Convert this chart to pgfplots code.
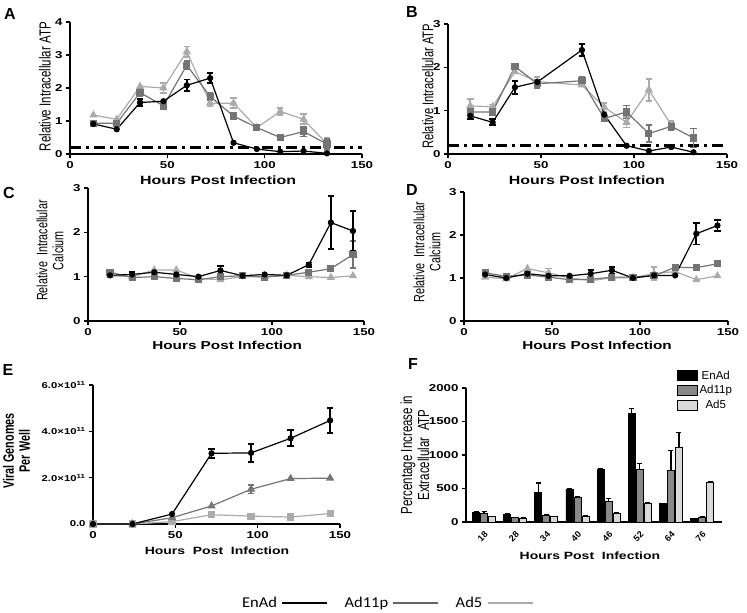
\documentclass[border=0pt]{standalone}
\usepackage{pgfplots}
\usepackage{pgfplotstable}
\pgfplotsset{compat=1.18}
\usepackage{fontspec}
\setmainfont{Liberation Sans}
\newfontfamily\hfont[FakeStretch=1.33]{Liberation Sans}
\newfontfamily\vfont[FakeStretch=0.72]{Liberation Sans}
\newfontfamily\calfont[FakeStretch=1.1]{Carlito}

\definecolor{cB}{HTML}{747474}
\definecolor{cC}{HTML}{ABABAB}
\definecolor{barB}{HTML}{888888}
\definecolor{barC}{HTML}{D9D9D9}

\pgfplotstableread{
x E eE B eB C eC
0 140 10 135 25 80 5
1 115 5 65 5 60 5
2 440 140 100 10 80 5
3 490 15 370 10 85 5
4 780 10 310 45 130 10
5 1620 70 780 95 275 20
6 275 5 770 295 1115 220
7 50 5 75 10 590 10
}\tabF

\pgfplotsset{
 panel/.style={
   scale only axis, anchor=south west,
   axis x line=bottom, axis y line=left,
   axis line style={-, line width=1.3pt},
   tick style={line width=1.3pt, black},
   tick align=outside, major tick length=4pt,
   /pgf/number format/assume math mode=true,
   /pgf/number format/1000 sep={},
   tick label style={font=\hfont\bfseries\fontsize{10}{12}\selectfont},
   xlabel style={font=\hfont\bfseries\fontsize{12}{14}\selectfont, anchor=center},
   ylabel style={font=\vfont\fontsize{16}{17}\selectfont, align=center, anchor=center},
   clip=false,
   xmin=0, xmax=150, xtick={0,50,100,150}, ymin=0,
   every axis plot/.append style={line width=1.2pt},
 },
 sE/.style={black, mark=*, mark size=2.5pt},
 s11/.style={cB, mark=square*, mark size=3pt},
 s5/.style={cC, mark=triangle*, mark size=3.6pt},
 eb/.style={only marks, mark=none, forget plot, error bars/.cd, y dir=both, y explicit,
   error bar style={line width=1.8pt}, error mark options={rotate=90, mark size=3.2pt, line width=1.8pt}},
 dd/.style={black, line width=2.6pt, dash pattern=on 11pt off 5pt on 3pt off 5pt, forget plot},
}

\begin{document}
\begin{tikzpicture}
\path[use as bounding box] (0,0) rectangle (747pt,613pt);

% Panel letters
\node[font=\bfseries\fontsize{16}{18}\selectfont] at (10pt,599pt) {A};
\node[font=\bfseries\fontsize{16}{18}\selectfont] at (412pt,601pt) {B};
\node[font=\bfseries\fontsize{16}{18}\selectfont] at (9pt,420pt) {C};
\node[font=\bfseries\fontsize{16}{18}\selectfont] at (412pt,423pt) {D};
\node[font=\bfseries\fontsize{16}{18}\selectfont] at (8pt,243pt) {E};
\node[font=\bfseries\fontsize{16}{18}\selectfont] at (413pt,249pt) {F};

% ---------------- A
\begin{axis}[panel, at={(70pt,459pt)}, width=292pt, height=132pt,
  ymax=4, ytick={0,1,2,3,4},
  xlabel={Hours Post Infection}, ylabel={Relative Intracellular ATP},
  xlabel style={at={(axis description cs:0.507,-0.197)}},
  ylabel style={at={(axis description cs:-0.086,0.51)}}]
\addplot[dd] coordinates {(0,0.2) (150,0.2)};
\addplot[s5] coordinates {(12,1.18)(24,1.05)(36,2.05)(48,2.0)(60,3.1)(72,1.54)(84,1.54)(96,0.8)(108,1.29)(120,1.05)(132,0.3)};
\addplot[cC, eb] coordinates {(48,2.0)+-(0,0.15) (60,3.1)+-(0,0.16) (72,1.54)+-(0,0.1) (84,1.54)+-(0,0.15) (108,1.29)+-(0,0.1) (120,1.05)+-(0,0.15) (132,0.3)+-(0,0.2)};
\addplot[s11] coordinates {(12,0.93)(24,0.93)(36,1.86)(48,1.46)(60,2.69)(72,1.74)(84,1.15)(96,0.8)(108,0.5)(120,0.68)(132,0.3)};
\addplot[cB, eb] coordinates {(36,1.86)+-(0,0.1) (48,1.46)+-(0,0.1) (60,2.69)+-(0,0.12) (72,1.74)+-(0,0.12) (84,1.15)+-(0,0.08) (96,0.8)+-(0,0.06) (120,0.68)+-(0,0.15) (132,0.3)+-(0,0.15)};
\addplot[sE] coordinates {(12,0.91)(24,0.75)(36,1.56)(48,1.6)(60,2.08)(72,2.3)(84,0.34)(96,0.15)(108,0.07)(120,0.09)(132,0.02)};
\addplot[black, eb] coordinates {(36,1.56)+-(0,0.1) (60,2.08)+-(0,0.18) (72,2.3)+-(0,0.16)};
\end{axis}

% ---------------- B
\begin{axis}[panel, at={(448pt,459pt)}, width=279pt, height=130pt,
  ymax=3, ytick={0,1,2,3},
  xlabel={Hours Post Infection}, ylabel={Relative Intracellular ATP},
  xlabel style={at={(axis description cs:0.498,-0.2)}},
  ylabel style={font=\vfont\fontsize{15.5}{17}\selectfont, at={(axis description cs:-0.072,0.52)}}]
\addplot[dd] coordinates {(0,0.2) (150,0.2)};
\addplot[s5] coordinates {(12,1.11)(24,1.09)(36,1.9)(48,1.67)(72,1.59)(84,1.08)(96,0.73)(108,1.48)(120,0.67)};
\addplot[cC, eb] coordinates {(12,1.11)+-(0,0.15) (24,1.09)+-(0,0.05) (48,1.67)+-(0,0.1) (84,1.08)+-(0,0.1) (96,0.73)+-(0,0.12) (108,1.48)+-(0,0.25) (120,0.67)+-(0,0.1)};
\addplot[s11] coordinates {(12,0.97)(24,0.97)(36,2.02)(48,1.62)(72,1.69)(84,0.82)(96,0.97)(108,0.47)(120,0.64)(132,0.37)};
\addplot[cB, eb] coordinates {(48,1.62)+-(0,0.1) (72,1.69)+-(0,0.1) (96,0.97)+-(0,0.15) (108,0.47)+-(0,0.2) (120,0.64)+-(0,0.08) (132,0.37)+-(0,0.22)};
\addplot[sE] coordinates {(12,0.88)(24,0.73)(36,1.54)(48,1.66)(72,2.4)(84,0.91)(96,0.19)(108,0.07)(120,0.16)(132,0.04)};
\addplot[black, eb] coordinates {(12,0.88)+-(0,0.07) (24,0.73)+-(0,0.07) (36,1.54)+-(0,0.15) (72,2.4)+-(0,0.13)};
\end{axis}

% ---------------- C
\begin{axis}[panel, at={(88pt,292pt)}, width=276pt, height=133pt,
  ymax=3, ytick={0,1,2,3},
  xlabel={Hours Post Infection}, ylabel={Relative\ \ Intracellular\\Calcium},
  xlabel style={font=\hfont\bfseries\fontsize{11.5}{14}\selectfont, at={(axis description cs:0.504,-0.18)}},
  ylabel style={font=\vfont\fontsize{15}{16}\selectfont, at={(axis description cs:-0.138,0.53)}}]
\addplot[s5] coordinates {(12,1.02)(24,1.0)(36,1.15)(48,1.15)(60,0.96)(72,0.93)(84,1.0)(96,1.0)(108,1.03)(120,1.0)(132,0.98)(144,1.02)};
\addplot[s11] coordinates {(12,1.1)(24,0.98)(36,1.0)(48,0.96)(60,0.93)(72,1.0)(84,1.02)(96,0.99)(108,1.03)(120,1.1)(132,1.18)(144,1.5)};
\addplot[cB, eb] coordinates {(132,1.18)+-(0,0.05) (144,1.5)+-(0,0.3)};
\addplot[sE] coordinates {(12,1.03)(24,1.05)(36,1.1)(48,1.05)(60,1.0)(72,1.14)(84,1.02)(96,1.05)(108,1.03)(120,1.27)(132,2.22)(144,2.03)};
\addplot[black, eb] coordinates {(24,1.05)+-(0,0.05) (72,1.14)+-(0,0.1) (120,1.27)+-(0,0.05) (132,2.22)+-(0,0.6) (144,2.03)+-(0,0.45)};
\end{axis}

% ---------------- D
\begin{axis}[panel, at={(464pt,292pt)}, width=264pt, height=129pt,
  ymax=3, ytick={0,1,2,3},
  xlabel={Hours Post Infection}, ylabel={Relative\ \ Intracellular\\Calcium},
  xlabel style={font=\hfont\bfseries\fontsize{11.5}{14}\selectfont, at={(axis description cs:0.504,-0.186)}},
  ylabel style={font=\vfont\fontsize{15}{16}\selectfont, at={(axis description cs:-0.14,0.535)}}]
\addplot[s5] coordinates {(12,1.02)(24,0.98)(36,1.22)(48,1.12)(60,1.0)(72,0.94)(84,1.0)(96,1.01)(108,1.1)(120,1.15)(132,0.96)(144,1.05)};
\addplot[cC, eb] coordinates {(48,1.12)+-(0,0.1) (108,1.1)+-(0,0.15)};
\addplot[s11] coordinates {(12,1.12)(24,1.04)(36,1.07)(48,1.02)(60,0.96)(72,0.97)(84,1.02)(96,1.02)(108,1.05)(120,1.25)(132,1.24)(144,1.33)};
\addplot[sE] coordinates {(12,1.08)(24,1.0)(36,1.1)(48,1.05)(60,1.05)(72,1.1)(84,1.18)(96,1.0)(108,1.06)(120,1.06)(132,2.03)(144,2.22)};
\addplot[black, eb] coordinates {(72,1.1)+-(0,0.08) (84,1.18)+-(0,0.08) (132,2.03)+-(0,0.25) (144,2.22)+-(0,0.12)};
\end{axis}

% ---------------- E
\begin{axis}[panel, at={(93pt,89pt)}, width=247pt, height=139pt,
  ymax=6e11, ytick={0,2e11,4e11,6e11}, scaled y ticks=false,
  yticklabels={0.0, 2.0×10\textsuperscript{11}, 4.0×10\textsuperscript{11}, 6.0×10\textsuperscript{11}},
  yticklabel style={font=\hfont\bfseries\fontsize{8.5}{10}\selectfont},
  xlabel={Hours\ \ Post\ \ Infection}, ylabel={Viral Genomes\\Per Well},
  xlabel style={font=\hfont\bfseries\fontsize{10.5}{13}\selectfont, at={(axis description cs:0.502,-0.194)}},
  ylabel style={font=\vfont\bfseries\fontsize{15}{16}\selectfont, at={(axis description cs:-0.31,0.525)}}]
\addplot[cC, mark=square*, mark size=3pt] coordinates {(0,0)(24,0)(48,0.1e11)(72,0.4e11)(96,0.34e11)(120,0.3e11)(144,0.45e11)};
\addplot[cB, mark=triangle*, mark size=3.6pt] coordinates {(0,0)(24,0)(48,0.27e11)(72,0.78e11)(96,1.5e11)(120,1.96e11)(144,1.98e11)};
\addplot[cB, eb] coordinates {(96,1.5e11)+-(0,0.18e11)};
\addplot[sE] coordinates {(0,0)(24,0)(48,0.43e11)(72,3.05e11)(96,3.07e11)(120,3.7e11)(144,4.47e11)};
\addplot[black, eb] coordinates {(72,3.05e11)+-(0,0.2e11) (96,3.07e11)+-(0,0.4e11) (120,3.7e11)+-(0,0.35e11) (144,4.47e11)+-(0,0.55e11)};
\end{axis}

% ---------------- F
\begin{axis}[panel, at={(466pt,91pt)}, width=256pt, height=134pt,
  ybar=1pt, bar width=7pt,
  xmin=-0.58, xmax=7.64, xtick={0,...,7}, xticklabels={18,28,34,40,46,52,64,76},
  ymin=0, ymax=2000, ytick={0,500,1000,1500,2000},
  x tick label style={rotate=45, anchor=north east, font=\bfseries\fontsize{9}{10}\selectfont},
  major x tick style={draw=none},
  xlabel={Hours Post\ \ Infection}, ylabel={Percentage Increase in\\Extracellular\ \ ATP},
  xlabel style={font=\hfont\bfseries\fontsize{10.5}{13}\selectfont, at={(axis description cs:0.484,-0.25)}},
  ylabel style={font=\vfont\fontsize{16}{17}\selectfont, at={(axis description cs:-0.2,0.5)}},
  every axis plot/.append style={line width=0.9pt},
  legend style={at={(0.81,1.16)}, anchor=north west, draw=none, fill=none,
     font=\fontsize{11.5}{13}\selectfont, row sep=1pt},
  legend image code/.code={\draw[#1, draw=black, line width=1pt] (0pt,-5pt) rectangle (20pt,5pt);}]
\addplot[fill=black, draw=black, error bars/.cd, y dir=plus, y explicit,
   error bar style={black, line width=1.3pt}, error mark options={black, rotate=90, mark size=2.5pt, line width=1.3pt}]
   table[x=x, y=E, y error=eE] {\tabF};
\addlegendentry{EnAd}
\addplot[fill=barB, draw=black, error bars/.cd, y dir=plus, y explicit,
   error bar style={black, line width=1.3pt}, error mark options={black, rotate=90, mark size=2.5pt, line width=1.3pt}]
   table[x=x, y=B, y error=eB] {\tabF};
\addlegendentry{Ad11p}
\addplot[fill=barC, draw=black, error bars/.cd, y dir=plus, y explicit,
   error bar style={black, line width=1.3pt}, error mark options={black, rotate=90, mark size=2.5pt, line width=1.3pt}]
   table[x=x, y=C, y error=eC] {\tabF};
\addlegendentry{Ad5}
\end{axis}

% ---------------- bottom legend
\begin{axis}[at={(387pt,10pt)}, anchor=center, scale only axis, width=10pt, height=10pt,
  hide axis, xmin=0, xmax=1, ymin=0, ymax=1,
  legend columns=3, legend plot pos=right,
  legend style={at={(0.5,0.5)}, anchor=center, draw=none, fill=none,
    font=\calfont\fontsize{15}{18}\selectfont,
    /tikz/every even column/.append style={column sep=14pt},
    /tikz/every odd column/.append style={column sep=2pt}},
  legend image code/.code={\draw[#1] (0pt,0pt) -- (45pt,0pt);}]
\addlegendimage{black, line width=2.5pt}
\addlegendentry{EnAd}
\addlegendimage{color=cB!85!black, line width=2.5pt}
\addlegendentry{Ad11p}
\addlegendimage{color=cC, line width=2.5pt}
\addlegendentry{Ad5}
\end{axis}
\end{tikzpicture}
\end{document}
